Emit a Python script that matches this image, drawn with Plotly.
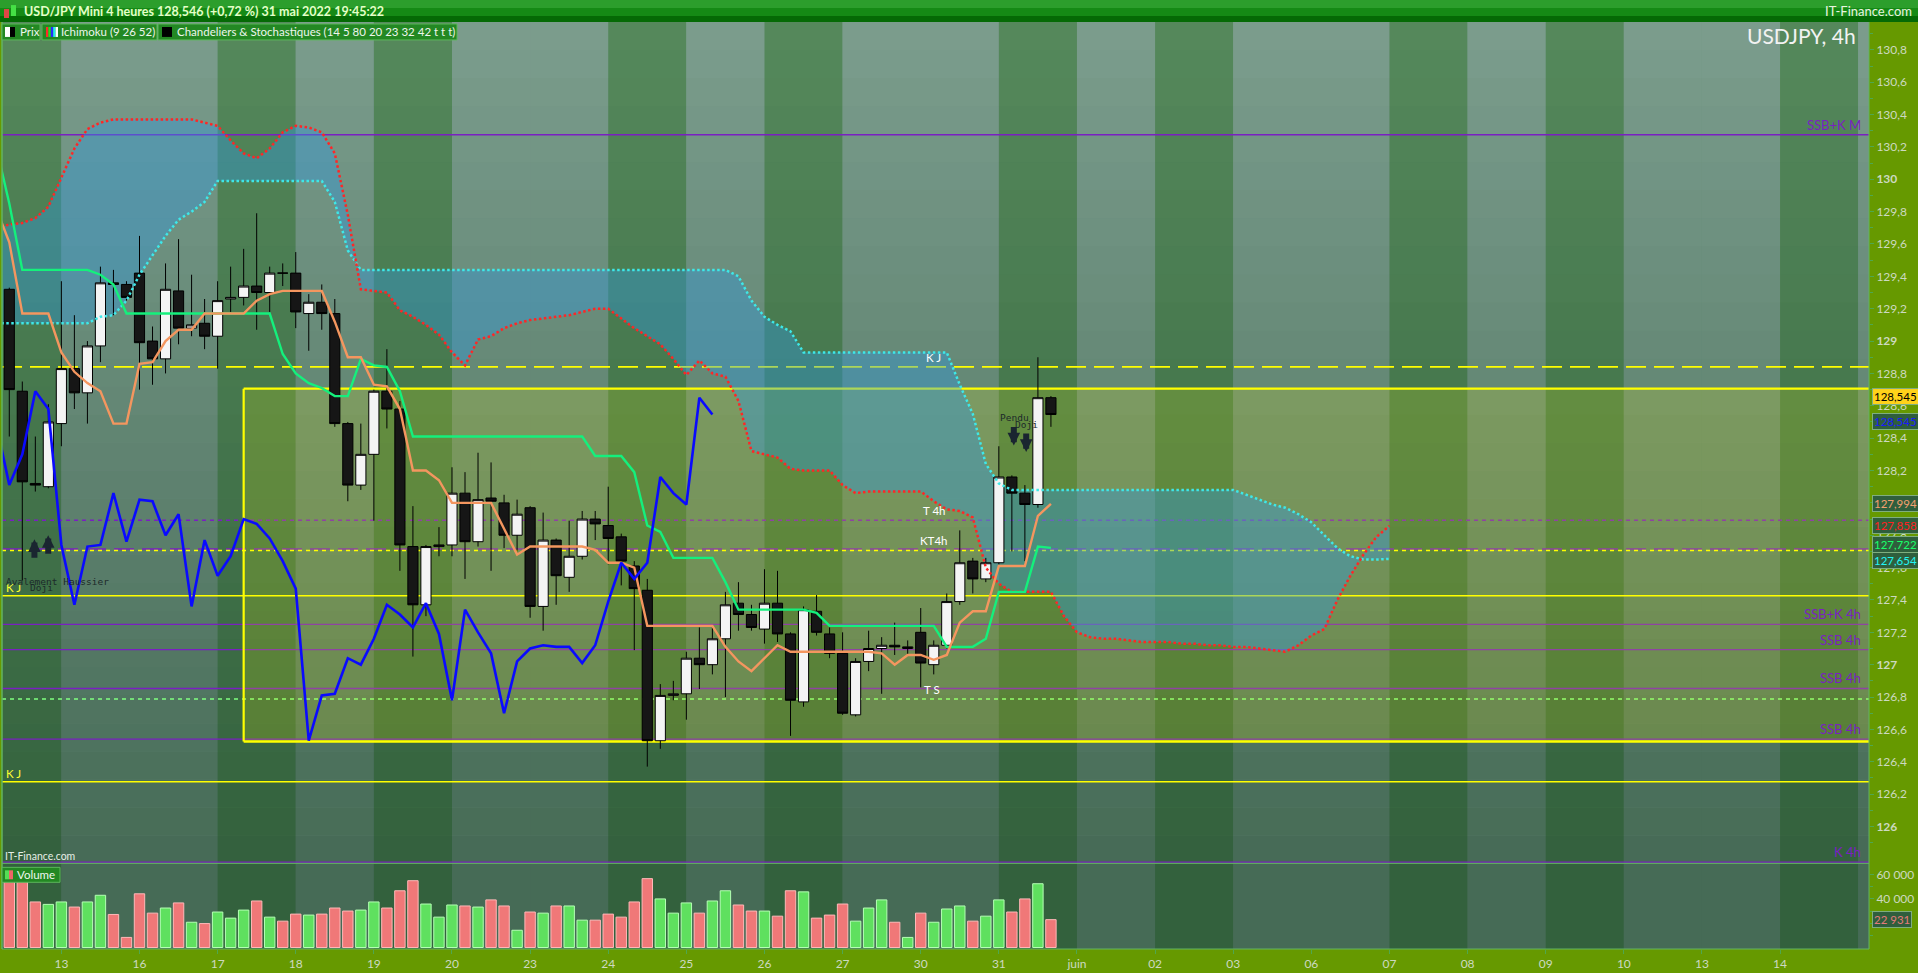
import plotly.graph_objects as go

# USD/JPY Mini, 4 heures (31 mai 2022)

# trading days on the time axis, 6 candles of 4h each
day_labels = ["13", "16", "17", "18", "19", "20", "23", "24", "25", "26", "27",
              "30", "31", "juin", "02", "03", "06", "07", "08", "09", "10", "13", "14"]
# shade of each day column, from the partial 12th to the day after the 14th
day_shade = ["d", "l", "l", "d", "l", "d", "l", "l", "d", "l", "d", "l", "l",
             "d", "l", "d", "l", "l", "d", "l", "d", "l", "l", "d", "l"]

open_ = [129.32, 128.69, 128.12, 128.10, 128.49, 128.83, 128.68, 128.97, 129.36, 129.35,
         129.42, 129.00, 128.89, 129.31, 129.08, 129.11, 129.03, 129.26, 129.27, 129.34,
         129.30, 129.42, 129.42, 129.17, 129.24, 129.17, 128.49, 128.11, 128.30, 128.69,
         128.58, 127.73, 127.37, 127.73, 127.74, 128.06, 127.76, 128.03, 128.00, 127.80,
         127.97, 127.36, 127.77, 127.54, 127.67, 127.90, 127.86, 127.79, 127.61, 127.46,
         126.53, 126.81, 126.82, 127.04, 127.00, 127.16, 127.38, 127.31, 127.22, 127.38,
         127.19, 126.77, 127.33, 127.19, 127.07, 126.69, 127.02, 127.10, 127.12, 127.10,
         127.20, 127.00, 127.12, 127.39, 127.64, 127.53, 127.63, 128.16, 128.06, 127.99,
         128.65]
high = [129.33, 128.75, 128.41, 128.61, 129.37, 129.16, 129.00, 129.46, 129.44, 129.37,
        129.65, 129.09, 129.48, 129.63, 129.41, 129.26, 129.37, 129.46, 129.57, 129.79,
        129.46, 129.48, 129.55, 129.29, 129.35, 129.26, 128.50, 128.49, 128.70, 128.95,
        128.63, 127.98, 127.74, 127.85, 128.22, 128.19, 128.31, 128.25, 128.05, 128.02,
        127.98, 127.94, 127.78, 127.89, 127.95, 127.95, 128.10, 127.81, 127.64, 127.53,
        126.88, 126.90, 127.08, 127.23, 127.23, 127.45, 127.51, 127.37, 127.59, 127.58,
        127.20, 127.36, 127.43, 127.23, 127.20, 127.04, 127.21, 127.17, 127.26, 127.15,
        127.35, 127.15, 127.44, 127.83, 127.66, 127.66, 128.35, 128.17, 128.11, 128.90,
        128.66]
low = [128.41, 127.52, 128.07, 128.09, 128.35, 128.58, 128.49, 128.87, 129.16, 129.25,
       128.70, 128.73, 128.80, 128.98, 129.03, 128.95, 128.83, 129.18, 129.22, 129.07,
       129.18, 129.34, 129.08, 128.94, 129.07, 128.47, 128.01, 128.08, 127.89, 128.46,
       127.58, 127.05, 127.30, 127.67, 127.67, 127.53, 127.73, 127.58, 127.72, 127.70,
       127.29, 127.21, 127.37, 127.45, 127.65, 127.77, 127.62, 127.49, 127.09, 126.37,
       126.48, 126.78, 126.66, 126.85, 126.94, 126.80, 127.21, 127.21, 127.13, 127.14,
       126.56, 126.74, 127.18, 127.04, 126.69, 126.68, 126.96, 126.82, 127.06, 127.06,
       126.86, 126.94, 127.10, 127.37, 127.44, 127.51, 127.62, 127.70, 127.64, 127.97,
       128.47]
close = [128.70, 128.13, 128.11, 128.50, 128.83, 128.68, 128.97, 129.36, 129.35, 129.27,
         128.99, 128.89, 129.32, 129.08, 129.10, 129.03, 129.25, 129.27, 129.34, 129.30,
         129.42, 129.42, 129.18, 129.24, 129.17, 128.49, 128.11, 128.30, 128.69, 128.58,
         127.74, 127.37, 127.73, 127.74, 128.06, 127.76, 128.02, 128.01, 127.80, 127.93,
         127.36, 127.77, 127.55, 127.67, 127.90, 127.87, 127.78, 127.64, 127.47, 126.53,
         126.81, 126.82, 127.04, 127.00, 127.16, 127.37, 127.31, 127.23, 127.38, 127.19,
         126.78, 127.34, 127.20, 127.07, 126.70, 127.02, 127.10, 127.12, 127.11, 127.11,
         127.01, 127.12, 127.39, 127.63, 127.53, 127.63, 128.16, 128.06, 127.99, 128.65,
         128.546]
volume = [56000, 56000, 37500, 35500, 37500, 33300, 37500, 43000, 27200, 8300,
          44200, 28300, 32500, 36700, 20800, 19700, 29200, 24200, 30800, 38300,
          25000, 21700, 27500, 26700, 27500, 32500, 30000, 30800, 37500, 32500,
          46700, 55000, 35800, 25000, 35000, 34200, 33300, 39200, 34200, 14200,
          29200, 28300, 34200, 34200, 22500, 22500, 27500, 25000, 37500, 56700,
          40000, 28300, 36700, 28300, 38300, 46700, 35000, 30000, 30000, 25800,
          46700, 45800, 24200, 26700, 35800, 21700, 32500, 39200, 20800, 8300,
          28300, 20800, 31700, 34200, 21700, 25800, 39200, 29200, 40000, 52500,
          22931]

# ichimoku (9 26 52), first value is one candle left of the first visible candle
tenkan = [129.82, 129.61, 129.17, 129.17, 129.17, 128.93, 128.81, 128.74, 128.69, 128.49,
          128.49, 128.86, 128.87, 129.00, 129.07, 129.07, 129.17, 129.17, 129.17, 129.17,
          129.25, 129.29, 129.31, 129.31, 129.31, 129.31, 129.12, 128.90, 128.90, 128.73,
          128.72, 128.58, 128.20, 128.20, 128.14, 128.00, 128.00, 128.00, 128.00, 127.84,
          127.68, 127.73, 127.73, 127.73, 127.73, 127.73, 127.71, 127.63, 127.63, 127.60,
          127.24, 127.24, 127.24, 127.24, 127.24, 127.24, 127.11, 127.02, 126.96, 127.04,
          127.12, 127.08, 127.08, 127.08, 127.08, 127.08, 127.08, 127.08, 127.07, 127.00,
          127.06, 127.06, 127.03, 127.06, 127.26, 127.33, 127.33, 127.61, 127.61, 127.61,
          127.92, 127.994]
kijun = [130.20, 129.85, 129.44, 129.44, 129.44, 129.44, 129.44, 129.44, 129.41, 129.35,
         129.17, 129.17, 129.17, 129.17, 129.17, 129.17, 129.17, 129.17, 129.17, 129.17,
         129.17, 129.17, 128.92, 128.80, 128.74, 128.71, 128.66, 128.66, 128.89, 128.85,
         128.84, 128.69, 128.41, 128.41, 128.41, 128.41, 128.41, 128.41, 128.41, 128.41,
         128.41, 128.41, 128.41, 128.41, 128.41, 128.41, 128.29, 128.29, 128.29, 128.19,
         127.86, 127.82, 127.66, 127.66, 127.66, 127.66, 127.51, 127.34, 127.34, 127.34,
         127.34, 127.34, 127.34, 127.32, 127.24, 127.24, 127.24, 127.24, 127.24, 127.24,
         127.24, 127.24, 127.24, 127.11, 127.11, 127.11, 127.16, 127.45, 127.45, 127.45,
         127.73, 127.722]
# cloud edges, projected 26 candles ahead (same first candle as above)
senkou_red = [129.70, 129.72, 129.73, 129.76, 129.83, 130.01, 130.19, 130.31, 130.35, 130.37,
              130.37, 130.37, 130.37, 130.37, 130.37, 130.37, 130.35, 130.33, 130.24, 130.16,
              130.13, 130.19, 130.29, 130.33, 130.32, 130.29, 130.16, 129.78, 129.32, 129.31,
              129.30, 129.19, 129.15, 129.10, 129.04, 128.93, 128.85, 129.01, 129.03, 129.08,
              129.11, 129.13, 129.14, 129.15, 129.16, 129.18, 129.20, 129.20, 129.14, 129.08,
              129.03, 128.98, 128.89, 128.79, 128.88, 128.80, 128.78, 128.63, 128.32, 128.30,
              128.28, 128.21, 128.20, 128.20, 128.20, 128.11, 128.06, 128.07, 128.07, 128.07,
              128.07, 128.07, 128.01, 127.96, 127.95, 127.91, 127.60, 127.50, 127.45, 127.45,
              127.45, 127.45, 127.30, 127.20, 127.17, 127.16, 127.16, 127.15, 127.14, 127.14,
              127.14, 127.13, 127.13, 127.12, 127.12, 127.11, 127.11, 127.10, 127.09, 127.08,
              127.12, 127.18, 127.22, 127.40, 127.55, 127.68, 127.79, 127.858]
senkou_cyan = [129.11, 129.11, 129.11, 129.11, 129.11, 129.11, 129.11, 129.11, 129.15, 129.16,
               129.25, 129.41, 129.53, 129.65, 129.75, 129.80, 129.86, 129.99, 129.99, 129.99,
               129.99, 129.99, 129.99, 129.99, 129.99, 129.99, 129.86, 129.56, 129.44, 129.44,
               129.44, 129.44, 129.44, 129.44, 129.44, 129.44, 129.44, 129.44, 129.44, 129.44,
               129.44, 129.44, 129.44, 129.44, 129.44, 129.44, 129.44, 129.44, 129.44, 129.44,
               129.44, 129.44, 129.44, 129.44, 129.44, 129.44, 129.44, 129.40, 129.25, 129.15,
               129.10, 129.06, 128.93, 128.93, 128.93, 128.93, 128.93, 128.93, 128.93, 128.93,
               128.93, 128.93, 128.93, 128.93, 128.73, 128.55, 128.24, 128.12, 128.08, 128.08,
               128.08, 128.08, 128.08, 128.08, 128.08, 128.08, 128.08, 128.08, 128.08, 128.08,
               128.08, 128.08, 128.08, 128.08, 128.08, 128.08, 128.05, 128.02, 127.99, 127.97,
               127.93, 127.88, 127.80, 127.72, 127.67, 127.65, 127.65, 127.654]

# horizontal levels
purple_levels = [130.275, 127.249, 127.093, 126.853, 126.540, 125.780]
purple_names = ["SSB+K M", "SSB+K 4h", "SSB 4h", "SSB 4h", "SSB 4h", "K 4h"]
yellow_levels = [127.426, 126.277]
yellow_dashed = 128.841
yellow_dotted = 127.705
purple_dotted = 127.893
purple_dashed = 127.715
green_dotted = 126.788
box_top, box_bottom, box_start = 128.706, 126.525, 18

# tags on the price scale: text, value, text colour, background
price_tags = [("128,545", 128.658, "#000000", "#ffd21a"),
              ("128,545", 128.505, "#1a1aff", "#2f5e3d"),
              ("127,994", 127.994, "#f4a070", "#2f5e3d"),
              ("127,858", 127.860, "#ff2020", "#2f5e3d"),
              ("127,722", 127.743, "#19ff6a", "#2f5e3d"),
              ("127,654", 127.641, "#22f4f4", "#2f5e3d")]

# ---------------------------------------------------------------
W, H = 1918, 973
ML, MR, MT, MB = 2, 49, 22, 20
PW, PH = W - ML - MR, H - MT - MB
VOL_TOP = 867
split = (H - MB - VOL_TOP) / PH
x_lo, x_hi = -0.56, 142.83
p_lo, p_hi = 125.772, 130.972
FONT = "Lato, Noto Sans, sans-serif"
MONO = "DejaVu Sans Mono, monospace"


def px(x):
    return (x - ML) / PW


def py(y):
    return (H - MB - y) / PH


idx = list(range(len(close)))
ichi_x = list(range(-1, len(tenkan) - 1))
cloud_x = list(range(-1, len(senkou_red) - 1))
chikou_x = list(range(-1, len(close) - 26))
day_x = [4 + 6 * k for k in range(len(day_labels))]
band_x = [-2 + 6 * k for k in range(len(day_shade))]

fig = go.Figure()

# cloud fill on the base axes, under the candles
fig.add_trace(go.Scatter(x=cloud_x, y=senkou_cyan, mode="lines", line=dict(width=0),
                         xaxis="x", yaxis="y", hoverinfo="skip"))
fig.add_trace(go.Scatter(x=cloud_x, y=senkou_red, mode="lines", line=dict(width=0),
                         fill="tonexty", fillcolor="rgba(48,152,222,0.40)",
                         xaxis="x", yaxis="y", hoverinfo="skip"))

fig.add_trace(go.Candlestick(
    x=idx, open=open_, high=high, low=low, close=close,
    increasing=dict(fillcolor="#f4f4f4", line=dict(color="#000000", width=1)),
    decreasing=dict(fillcolor="#161616", line=dict(color="#000000", width=1)),
    whiskerwidth=0, xaxis="x", yaxis="y3", hoverinfo="skip"))

fig.add_trace(go.Scatter(x=cloud_x, y=senkou_cyan, mode="lines",
                         line=dict(color="#3ee8e8", width=2.5, dash="2.5px,2.5px"),
                         xaxis="x", yaxis="y3", hoverinfo="skip"))
fig.add_trace(go.Scatter(x=cloud_x, y=senkou_red, mode="lines",
                         line=dict(color="#ff2626", width=2.5, dash="2.5px,2.5px"),
                         xaxis="x", yaxis="y3", hoverinfo="skip"))
fig.add_trace(go.Scatter(x=ichi_x, y=kijun, mode="lines",
                         line=dict(color="#14f07c", width=2.4),
                         xaxis="x", yaxis="y3", hoverinfo="skip"))
fig.add_trace(go.Scatter(x=ichi_x, y=tenkan, mode="lines",
                         line=dict(color="#f4965f", width=2.4),
                         xaxis="x", yaxis="y3", hoverinfo="skip"))
fig.add_trace(go.Scatter(x=chikou_x, y=close[25:], mode="lines",
                         line=dict(color="#0a0aff", width=2.6),
                         xaxis="x", yaxis="y3", hoverinfo="skip"))

vol_fill = ["#5fe05f" if c > o else "#f07878" for o, c in zip(open_, close)]
vol_edge = ["#b4ffb4" if c > o else "#ffb8b8" for o, c in zip(open_, close)]
fig.add_trace(go.Bar(x=idx, y=volume, width=0.8,
                     marker=dict(color=vol_fill, line=dict(color=vol_edge, width=1)),
                     xaxis="x", yaxis="y2", hoverinfo="skip"))

# ---- background: day columns, vertical shading, yellow box ----
shapes = []
for x0, shade in zip(band_x, day_shade):
    shapes.append(dict(type="rect", xref="x", yref="paper", x0=max(x0, x_lo),
                       x1=min(x0 + 6, x_hi), y0=0, y1=1, layer="below", line_width=0,
                       fillcolor="#7c9e8e" if shade == "l" else "#568a5c"))
n_strips = 30
for k in range(n_strips):
    a = 0.5 * (k + 0.5) / n_strips
    shapes.append(dict(type="rect", xref="paper", yref="paper", x0=0, x1=1,
                       y0=1 - (1 - split) * (k + 1) / n_strips,
                       y1=1 - (1 - split) * k / n_strips,
                       fillcolor="rgba(16,56,30,%.3f)" % a, line_width=0, layer="below"))
shapes.append(dict(type="rect", xref="paper", yref="paper", x0=0, x1=1, y0=0, y1=split,
                   fillcolor="rgba(16,56,30,0.5)", line_width=0, layer="below"))
shapes.append(dict(type="rect", xref="x", yref="y", x0=box_start, x1=x_hi,
                   y0=box_bottom, y1=box_top, fillcolor="rgba(255,255,0,0.16)",
                   line_width=0, layer="below"))


def hline(v, color, width=1.3, dash="solid", x0=None):
    if x0 is None:
        d = dict(xref="paper", x0=0, x1=1)
    else:
        d = dict(xref="x", x0=x0, x1=x_hi)
    d.update(type="line", yref="y", y0=v, y1=v, layer="below",
             line=dict(color=color, width=width, dash=dash))
    shapes.append(d)


PURPLE = "#7a1fc2"
for v in purple_levels:
    hline(v, PURPLE, 1.4)
hline(purple_dotted, PURPLE, 1.5, "4px,4px")
hline(purple_dashed, PURPLE, 1.5, "20px,8px")
hline(yellow_dashed, "#ffff00", 1.8, "20px,8px")
hline(yellow_dotted, "#ffff00", 1.5, "4px,4px")
hline(green_dotted, "#80ff80", 1.5, "4px,4px")
for v in yellow_levels:
    hline(v, "#ffff00", 1.5)
hline(box_top, "#ffff00", 2.2, x0=box_start)
hline(box_bottom, "#ffff00", 2.6, x0=box_start)
shapes.append(dict(type="line", xref="x", yref="y", x0=box_start, x1=box_start,
                   y0=box_bottom, y1=box_top, layer="below",
                   line=dict(color="#ffff00", width=2.2)))

# frame, pane separator
for y in (py(VOL_TOP), 0):
    shapes.append(dict(type="line", xref="paper", yref="paper", x0=0, x1=1, y0=y, y1=y,
                       line=dict(color="#62b562", width=1)))
shapes.append(dict(type="line", xref="paper", yref="paper", x0=1, x1=1, y0=0, y1=1,
                   line=dict(color="#62b562", width=1)))
shapes.append(dict(type="line", xref="paper", yref="paper", x0=0, x1=0, y0=0, y1=1,
                   line=dict(color="#62b562", width=1.5)))


def pbox(x0, x1, y0, y1, fill, line=None):
    shapes.append(dict(type="rect", xref="paper", yref="paper", x0=px(x0), x1=px(x1),
                       y0=py(y1), y1=py(y0), fillcolor=fill,
                       line=dict(color=line or fill, width=1 if line else 0)))


# title bar
pbox(0, W, 0, 22, "#158a15")
pbox(0, W, 0, 8, "#2c9e2c")
pbox(0, W, 16, 22, "#056a05")
pbox(4, 9, 9, 18, "#e04545")
pbox(11, 16, 5, 16, "#45e045")

# legend boxes and their icons
pbox(2, 40, 24, 40, "#238823", "#5cb85c")
pbox(42, 157, 24, 40, "#238823", "#5cb85c")
pbox(158, 457, 24, 40, "#238823", "#5cb85c")
pbox(5, 10, 27, 37, "#ffffff")
pbox(10, 15, 27, 37, "#000000")
for k, c in enumerate(["#ff2a2a", "#22dd22", "#2a2aff", "#22eeee", "#ffffff"]):
    pbox(46 + 2.4 * k, 48.4 + 2.4 * k, 27, 37, c)
pbox(162, 172, 27, 37, "#000000")
pbox(2, 60, 871, 886, "#238823", "#5cb85c")
pbox(5, 9, 874, 883, "#55dd55")
pbox(9, 13, 874, 883, "#ee6666")

# ---- texts ----
ann = []


def note(text, x, y, xref="x", yref="y", size=11, color="#ffffff", xanchor="center",
         yanchor="middle", family=FONT, **kw):
    ann.append(dict(text=text, x=x, y=y, xref=xref, yref=yref, showarrow=False,
                    xanchor=xanchor, yanchor=yanchor,
                    font=dict(size=size, color=color, family=family), **kw))


note("<b>USD/JPY Mini 4 heures 128,546 (+0,72 %) 31 mai 2022 19:45:22</b>",
     px(22), py(11), "paper", "paper", 12.5, "#e4ffc8", "left")
note("IT-Finance.com", px(1914), py(11), "paper", "paper", 13, "#e8f4e0", "right")

note("Prix", px(18), py(32), "paper", "paper", 11.5, "#eef6ee", "left")
note("Ichimoku (9 26 52)", px(59), py(32), "paper", "paper", 11.5, "#eef6ee", "left")
note("Chandeliers &amp; Stochastiques (14 5 80 20 23 32 42 t t t)",
     px(175), py(32), "paper", "paper", 11.5, "#eef6ee", "left")
note("Volume", px(15), py(878.5), "paper", "paper", 11.5, "#eef6ee", "left")

note("USDJPY, 4h", px(1858), py(36), "paper", "paper", 21, "#f2f2f2", "right")

for v, name in zip(purple_levels, purple_names):
    note(name, 142.4, v, size=13, color=PURPLE, xanchor="right", yanchor="bottom")

note("K J", 71, 128.90, size=11.5)
note("T 4h", 71, 127.95, size=11.5)
note("KT4h", 71, 127.77, size=11.5)
note("T S", 70.9, 126.846, size=11.5)
note("K J", -0.4, 127.48, size=11.5, color="#ffff33", xanchor="left")
note("K J", -0.4, 126.33, size=11.5, color="#ffff33", xanchor="left")
note("Avalement Haussier", -0.4, 127.515, size=9.5, color="#1c2a2a", xanchor="left",
     family=MONO)
note("Doji", 1.4, 127.475, size=9.5, color="#1c2a2a", xanchor="left", family=MONO)
note("Pendu", 77.2, 128.53, size=9.5, color="#1c2a2a", family=MONO)
note("Doji", 78.1, 128.485, size=9.5, color="#1c2a2a", family=MONO)

# fat signal arrows (head at the given price, tail offset in pixels)
for x, y, ay in [(1.93, 127.775, 20), (2.99, 127.80, 20),
                 (77.15, 128.355, -20), (78.1, 128.315, -20)]:
    ann.append(dict(x=x, y=y, xref="x", yref="y", text="", showarrow=True, ax=0, ay=ay,
                    arrowhead=2, arrowsize=0.42, arrowwidth=6, arrowcolor="#1a2530",
                    standoff=0, startstandoff=0))

note("IT-Finance.com", px(3), py(860), "paper", "paper", 10.5, "#e6eee6", "left")

for text, v, col, bg in price_tags:
    note(text, px(1872), v, "paper", "y", 11.5, col, "left",
         bgcolor=bg, bordercolor="#7fae7f", borderwidth=1, borderpad=1)
note("22 931", px(1872), volume[-1], "paper", "y2", 11.5, "#e57a7a", "left",
     bgcolor="#2f5e3d", bordercolor="#7fae7f", borderwidth=1, borderpad=1)

price_ticks = [round(126.0 + 0.2 * k, 1) for k in range(25)]
price_text = ["<b>%d</b>" % v if v == int(v) else ("%.1f" % v).replace(".", ",")
              for v in price_ticks]
price_minor = [round(125.9 + 0.2 * k, 1) for k in range(26)]

axis_font = dict(family=FONT, size=12, color="#cdd9c0")
fig.update_layout(
    width=W, height=H, autosize=False,
    margin=dict(l=ML, r=MR, t=MT, b=MB, pad=0),
    paper_bgcolor="#669900", plot_bgcolor="#7c9e8e",
    showlegend=False, hovermode=False, boxgap=0.22, boxgroupgap=0,
    xaxis=dict(range=[x_lo, x_hi], anchor="y2", domain=[0, 1], tickmode="array",
               tickvals=day_x, ticktext=day_labels, ticks="outside", ticklen=4,
               tickcolor="#4fa84f", tickfont=axis_font, showgrid=False, zeroline=False,
               showline=False, rangeslider=dict(visible=False), fixedrange=True),
    yaxis=dict(domain=[split, 1], range=[p_lo, p_hi], anchor="x", side="right",
               tickmode="array", tickvals=price_ticks, ticktext=price_text,
               ticks="outside", ticklen=4, tickcolor="#4fa84f", tickfont=axis_font,
               minor=dict(tickmode="array", tickvals=price_minor, ticks="outside",
                          ticklen=3, tickcolor="#4fa84f"),
               showgrid=False, zeroline=False, fixedrange=True),
    yaxis2=dict(domain=[0, split], range=[-1230, 69260], anchor="x", side="right",
                tickmode="array", tickvals=[40000, 60000], ticktext=["40 000", "60 000"],
                ticks="outside", ticklen=4, tickcolor="#4fa84f", tickfont=axis_font,
                minor=dict(tickmode="array", tickvals=[10000, 20000, 30000, 50000],
                           ticks="outside", ticklen=3, tickcolor="#4fa84f"),
                showgrid=False, zeroline=False, fixedrange=True),
    yaxis3=dict(overlaying="y", anchor="x", range=[p_lo, p_hi], visible=False,
                showgrid=False, zeroline=False, fixedrange=True),
    shapes=shapes, annotations=ann,
)

# the page has a default body margin; drop it so the chart fills the window
fig.write_html("out.html", config=dict(displayModeBar=False),
               post_script="document.body.style.margin='0px';"
                           "document.body.style.overflow='hidden';")
